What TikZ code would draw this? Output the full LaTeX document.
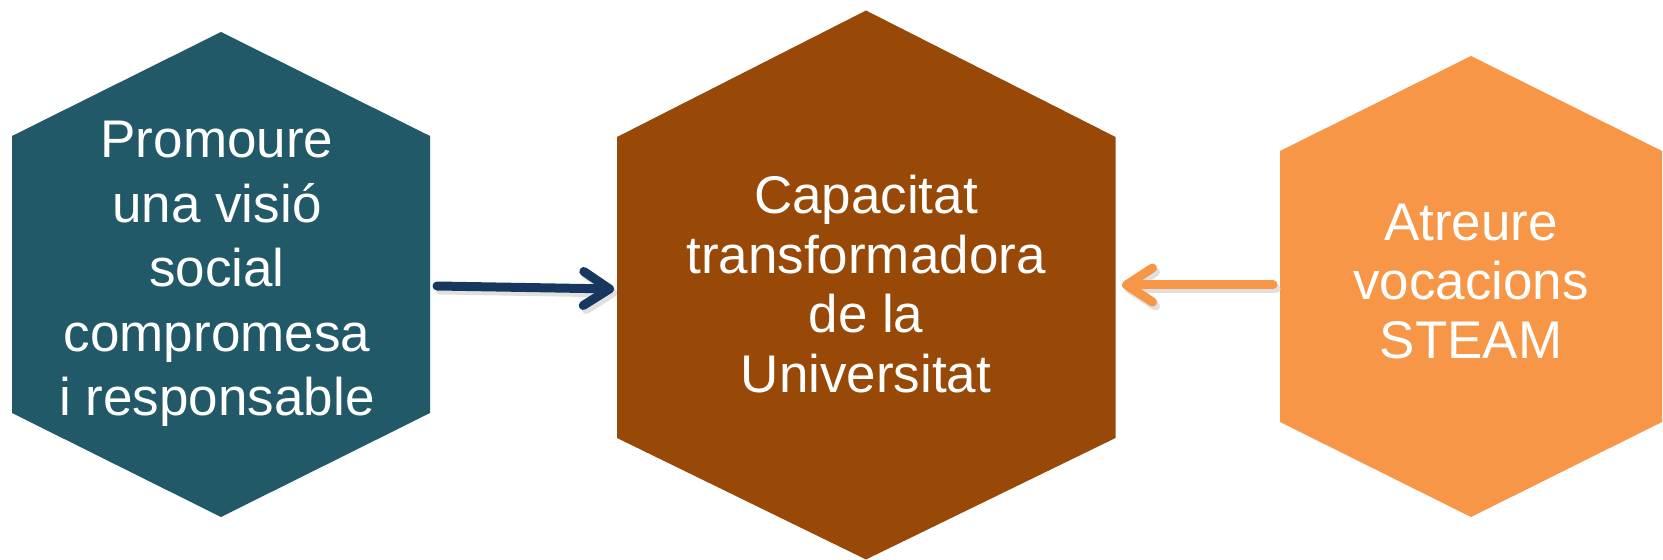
\documentclass[tikz,border=0pt]{standalone}
\usepackage{fontspec}
\setmainfont{Liberation Sans}
\usetikzlibrary{arrows.meta}

\definecolor{tealhex}{HTML}{215968}
\definecolor{brownhex}{HTML}{984807}
\definecolor{orangehex}{HTML}{F79646}
\definecolor{navyarrow}{HTML}{17375E}

\tikzset{
  hexlabel/.style={text=white, align=center, inner sep=0pt},
  linkarrow/.style={line width=4.5pt, line cap=round,
    -{Straight Barb[length=13pt,width=17pt,round]}},
  arrowshadow/.style={linkarrow, black!12, transform canvas={shift={(1.5pt,-2pt)}}}
}

\begin{document}
\begin{tikzpicture}[x=0.5pt,y=-0.5pt]
\useasboundingbox (0,0) rectangle (1663,560);

% hexagons
\fill[tealhex] (221,32) -- (430,136) -- (430,413) -- (221,517) -- (12,413) -- (12,136) -- cycle;
\fill[brownhex] (866,10.5) -- (1115.5,137) -- (1115.5,438) -- (866,559.5) -- (617,438) -- (617,137) -- cycle;
\fill[orangehex] (1471,56) -- (1662,151) -- (1662,422) -- (1471,517) -- (1280,422) -- (1280,151) -- cycle;

% labels
\node[hexlabel, font=\fontsize{26.5}{32.3}\selectfont] (promoure) at (217,274)
  {Promoure\\una visió\\social\\compromesa\\i responsable};
\node[hexlabel, font=\fontsize{26.5}{29.8}\selectfont] (capacitat) at (866,284)
  {Capacitat\\transformadora\\de la\\Universitat};
\node[hexlabel, font=\fontsize{26.5}{29.3}\selectfont] (atreure) at (1471,281.5)
  {Atreure\\vocacions\\STEAM};

% connector ends on the hexagon edges
\coordinate (promE) at (437,286);
\coordinate (capW) at (614,289);
\coordinate (atrW) at (1273,285);
\coordinate (capE) at (1122,285);

% arrows
\draw[arrowshadow] (promE) -- (capW);
\draw[arrowshadow] (atrW) -- (capE);
\draw[linkarrow, navyarrow] (promE) -- (capW);
\draw[linkarrow, orangehex] (atrW) -- (capE);
\end{tikzpicture}
\end{document}
